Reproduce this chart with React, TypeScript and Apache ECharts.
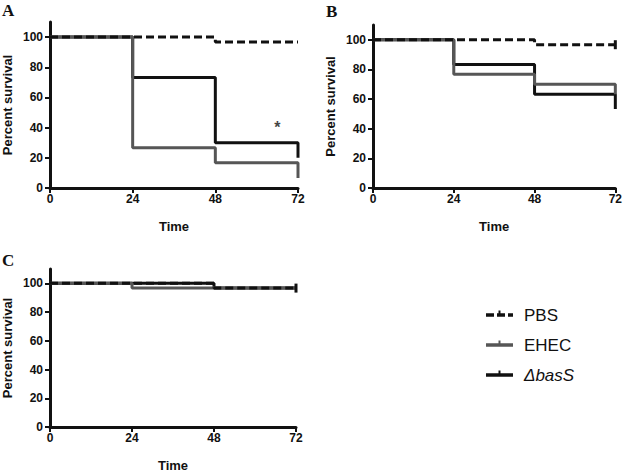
import React, { useEffect, useRef } from "react";
import * as echarts from "echarts";

// ---- data (time in hours, percent survival) ----
const xTicks = [0, 24, 48, 72];
const yTicks = [0, 20, 40, 60, 80, 100];

const pbsA = [[0, 100], [48, 96.7], [72, 96.7]];
const ehecA = [[0, 100], [24, 26.7], [48, 16.7], [72, 16.7], [72, 6.7]];
const basA = [[0, 100], [24, 73.3], [48, 30], [72, 30], [72, 20]];

const pbsB = [[0, 100], [48, 96.7], [72, 96.7]];
const ehecB = [[0, 100], [24, 76.7], [48, 70], [72, 70], [72, 63.3]];
const basB = [[0, 100], [24, 83.3], [48, 63.3], [72, 63.3], [72, 53.3]];

const pbsC = [[0, 100], [48, 96.7], [72, 96.7]];
const ehecC = [[0, 100], [24, 96.7], [72, 96.7]];
const basC = [[0, 100], [48, 96.7], [72, 96.7]];

const asteriskA = [[66, 40]];

const legendNames = ["PBS", "EHEC", "ΔbasS"];
const panelLetters = ["A", "B", "C"];

const BLACK = "#111111";
const GRAY = "#565656";
const FONT = "'Liberation Sans', Arial, Helvetica, sans-serif";

const grids = [
  { left: 47, top: 22, width: 251, height: 166 },
  { left: 373, top: 25, width: 244, height: 163 },
  { left: 48, top: 269, width: 248, height: 164 },
];

function withCensor(data: number[][], censor: boolean) {
  return data.map((p, i) => {
    if (censor && i === data.length - 1) {
      return { value: p, symbol: "rect", symbolSize: [3, 9] };
    }
    return { value: p, symbol: "none" };
  });
}

export default function App() {
  const ref = useRef<HTMLDivElement>(null);
  useEffect(() => {
    if (!ref.current) return;
    const chart = echarts.init(ref.current, undefined, { renderer: "svg" });

    const xAxes = grids.map((_, i) => ({
      type: "value",
      gridIndex: i,
      min: 0,
      max: 72,
      interval: 24,
      name: "Time",
      nameLocation: "middle",
      nameGap: 32,
      nameTextStyle: { fontFamily: FONT, fontWeight: "bold", fontSize: 13, color: BLACK },
      axisLine: { show: true, onZero: false, lineStyle: { color: BLACK, width: 3 } },
      axisTick: { show: true, length: 5, lineStyle: { color: BLACK, width: 2 } },
      axisLabel: { fontFamily: FONT, fontWeight: "bold", fontSize: 12, color: BLACK, margin: 5 },
      splitLine: { show: false },
    }));

    const yAxes = grids.map((_, i) => ({
      type: "value",
      gridIndex: i,
      min: 0,
      max: 110,
      interval: 20,
      name: "Percent survival",
      nameLocation: "middle",
      nameRotate: 90,
      nameGap: 36,
      nameTextStyle: { fontFamily: FONT, fontWeight: "bold", fontSize: 13, color: BLACK },
      axisLine: { show: true, onZero: false, lineStyle: { color: BLACK, width: 3 } },
      axisTick: { show: true, length: 5, customValues: yTicks, lineStyle: { color: BLACK, width: 2 } },
      axisLabel: {
        fontFamily: FONT,
        fontWeight: "bold",
        fontSize: 12,
        color: BLACK,
        margin: 7,
        customValues: yTicks,
      },
      splitLine: { show: false },
    }));

    const sets = [
      [pbsA, ehecA, basA],
      [pbsB, ehecB, basB],
      [pbsC, ehecC, basC],
    ];
    const series: any[] = [];
    sets.forEach((s, gi) => {
      series.push({
        type: "line",
        name: legendNames[0],
        xAxisIndex: gi,
        yAxisIndex: gi,
        step: "end",
        data: withCensor(s[0], gi > 0),
        itemStyle: { color: BLACK },
        lineStyle: { color: BLACK, width: 3, type: [8, 4] },
        z: 3,
      });
      series.push({
        type: "line",
        name: legendNames[2],
        xAxisIndex: gi,
        yAxisIndex: gi,
        step: "end",
        data: withCensor(s[2], false),
        lineStyle: { color: BLACK, width: 3 },
        z: 2,
      });
      series.push({
        type: "line",
        name: legendNames[1],
        xAxisIndex: gi,
        yAxisIndex: gi,
        step: "end",
        data: withCensor(s[1], false),
        lineStyle: { color: GRAY, width: 3 },
        z: 2,
      });
    });
    series.push({
      type: "scatter",
      xAxisIndex: 0,
      yAxisIndex: 0,
      data: asteriskA,
      symbolSize: 0,
      label: {
        show: true,
        position: "inside",
        formatter: "*",
        fontFamily: FONT,
        fontWeight: "bold",
        fontSize: 16,
        color: BLACK,
      },
    });

    const letterPos = [
      [2, 2],
      [326, 3],
      [2, 252],
    ];
    const graphic: any[] = panelLetters.map((t, i) => ({
      type: "text",
      x: letterPos[i][0],
      y: letterPos[i][1],
      style: {
        text: t,
        font: "bold 17px 'Liberation Serif', 'Times New Roman', serif",
        fill: BLACK,
      },
    }));

    const legY = [315, 345, 375];
    const legColors = [BLACK, GRAY, BLACK];
    legendNames.forEach((n, i) => {
      graphic.push({
        type: "line",
        shape: { x1: 486, y1: legY[i], x2: 513, y2: legY[i] },
        style: {
          stroke: legColors[i],
          lineWidth: 3.5,
          lineDash: i === 0 ? [8, 3] : null,
        },
      });
      graphic.push({
        type: "line",
        shape: { x1: 499.5, y1: legY[i] - 4.5, x2: 499.5, y2: legY[i] },
        style: { stroke: legColors[i], lineWidth: 2 },
      });
      graphic.push({
        type: "text",
        x: 524,
        y: legY[i],
        style: {
          text: n,
          font: (i === 2 ? "italic " : "") + "17px " + FONT,
          fill: BLACK,
          verticalAlign: "middle",
        },
      });
    });

    chart.setOption({
      animation: false,
      backgroundColor: "#ffffff",
      grid: grids.map((g) => ({ ...g, containLabel: false })),
      xAxis: xAxes,
      yAxis: yAxes,
      series,
      graphic,
    });
    return () => chart.dispose();
  }, []);

  return (
    <div
      ref={ref}
      style={{ position: "fixed", left: 0, top: 0, width: 625, height: 473, background: "#fff" }}
    />
  );
}
